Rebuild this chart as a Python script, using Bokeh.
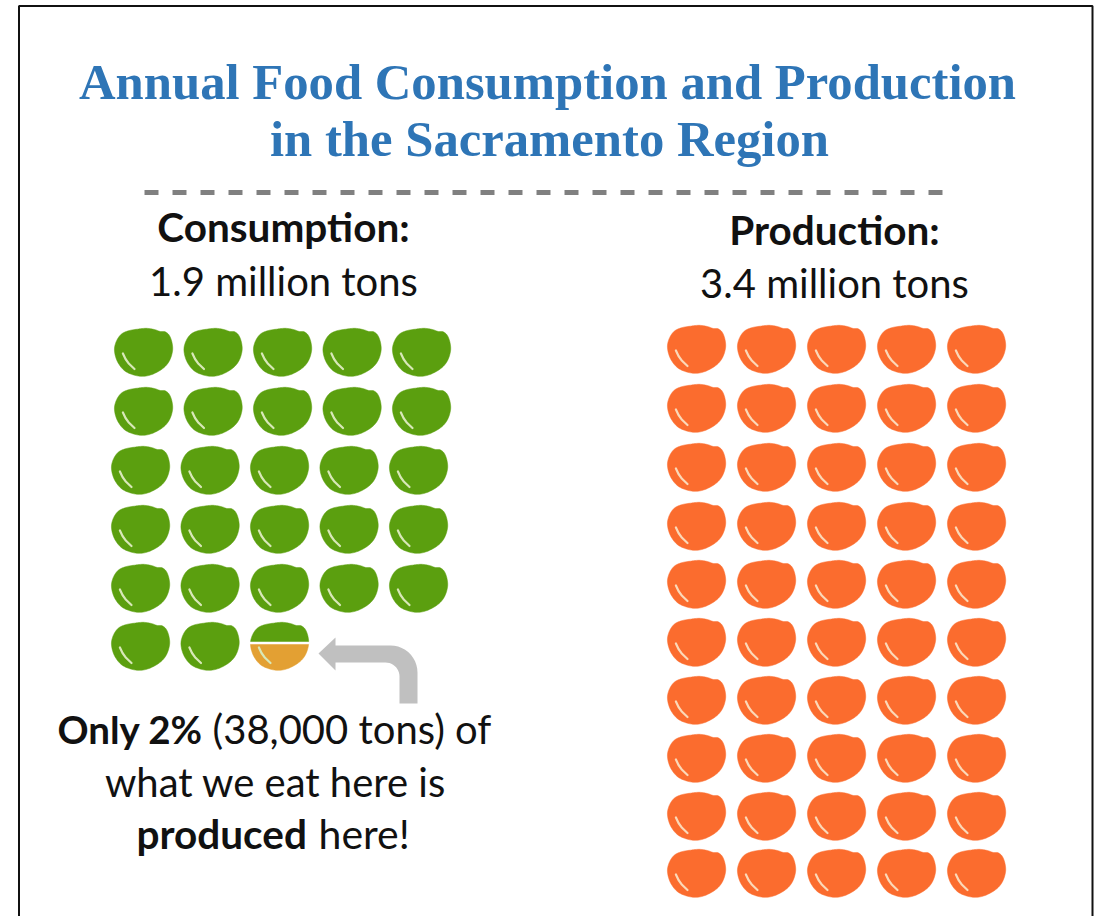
from bokeh.plotting import figure
from bokeh.embed import file_html
from bokeh.resources import INLINE
from bokeh.core.properties import value
import numpy as np

# ---- chart content
title_lines = ["Annual Food Consumption and Production", "in the Sacramento Region"]
categories = ["Consumption:", "Production:"]
totals = ["1.9 million tons", "3.4 million tons"]
consumption_row_counts = [5, 5, 5, 5, 5, 3]
production_row_counts = [5, 5, 5, 5, 5, 5, 5, 5, 5, 5]
split_row, split_col = 5, 2   # the one pea that is divided

# ---- layout (pixels of the 1096x916 page)
W, H = 1096, 916
LEFT_X = [143, 212.5, 282, 351.5, 421]
LEFT_Y = [352, 411, 470, 529, 588, 646]
LEFT_SHIFT = [0, 0, -3, -3, -3, -3]
RIGHT_X = [696, 766, 836, 906, 976]
RIGHT_Y = [349, 408, 467, 526, 584, 642, 700, 758, 816, 873]
HX, HY = 29, 24

GREEN, ORANGE, AMBER = "#5B9F0F", "#FB6C2E", "#E3A033"
BLUE, GREY, ARROW = "#2E75B6", "#808080", "#C0C0C0"

OUTLINE = [(43, 95), (47, 70), (62, 47), (85, 36), (115, 31), (140, 29), (165, 33), (180, 38),
           (195, 39), (208, 50), (216, 72), (217, 95), (208, 122), (190, 143), (160, 160),
           (130, 167), (100, 163), (72, 150), (52, 125)]
SHINE = [(-0.71, 0.04), (-0.62, 0.27), (-0.50, 0.47), (-0.31, 0.69)]


def smooth(points, n=8):
    pts = np.array(points, float)
    m = len(pts)
    out = []
    for i in range(m):
        p0, p1, p2, p3 = pts[(i - 1) % m], pts[i], pts[(i + 1) % m], pts[(i + 2) % m]
        for t in np.linspace(0, 1, n, endpoint=False):
            out.append(0.5 * (2 * p1 + (p2 - p0) * t + (2 * p0 - 5 * p1 + 4 * p2 - p3) * t ** 2
                              + (3 * p1 - p0 - 3 * p2 + p3) * t ** 3))
    return np.array(out)


shape = smooth(OUTLINE)
shape = (shape - [130, 98.5]) / [87, 69]


def clip(poly, ylimit, keep_above):
    res = []
    inside = (lambda q: q[1] <= ylimit) if keep_above else (lambda q: q[1] >= ylimit)
    for i in range(len(poly)):
        a, b = poly[i], poly[(i + 1) % len(poly)]
        if inside(a):
            res.append(a)
        if inside(a) != inside(b):
            t = (ylimit - a[1]) / (b[1] - a[1])
            res.append(a + t * (b - a))
    return np.array(res)


p = figure(width=W, height=H, x_range=(0, W), y_range=(H, 0), x_axis_type=None, y_axis_type=None,
           toolbar_location=None, output_backend="svg", min_border=0, outline_line_color=None,
           margin=0)
p.grid.visible = False

# frame
p.line(x=[18.5, 18.5, 1092, 1092], y=[H + 5, 5.5, 5.5, H + 5], line_color="#111111", line_width=2)


def add_peas(row_counts, xs, ys, color, shifts=None, split=None):
    px, py, sx, sy = [], [], [], []
    for r, count in enumerate(row_counts):
        for c in range(count):
            cx = xs[c] + (shifts[r] if shifts else 0)
            cy = ys[r]
            sx.append(list(cx + np.array(SHINE)[:, 0] * HX))
            sy.append(list(cy + np.array(SHINE)[:, 1] * HY))
            if split == (r, c):
                continue
            px.append(list(cx + shape[:, 0] * HX))
            py.append(list(cy + shape[:, 1] * HY))
    p.patches(px, py, fill_color=color, line_color=color, line_width=0.5)
    return sx, sy


lsx, lsy = add_peas(consumption_row_counts, LEFT_X, LEFT_Y, GREEN, LEFT_SHIFT, (split_row, split_col))
rsx, rsy = add_peas(production_row_counts, RIGHT_X, RIGHT_Y, ORANGE)

# divided pea
cx, cy = LEFT_X[split_col] + LEFT_SHIFT[split_row], LEFT_Y[split_row]
abs_shape = shape * [HX, HY] + [cx, cy]
top = clip(abs_shape, cy - 5, True)
bot = clip(abs_shape, cy - 2, False)
p.patch(top[:, 0], top[:, 1], fill_color=GREEN, line_color=GREEN, line_width=0.5)
p.patch(bot[:, 0], bot[:, 1], fill_color=AMBER, line_color=AMBER, line_width=0.5)

p.multi_line(lsx, lsy, line_color="#D8E8B8", line_width=2.2, line_cap="round")
p.multi_line(rsx, rsy, line_color="#FBD9B8", line_width=2.2, line_cap="round")

# arrow
t = np.linspace(0, np.pi / 2, 12)
outer_x = 390 + 27 * np.sin(t)
outer_y = 672 - 27 * np.cos(t)
inner_x = 385 + 14 * np.sin(t)
inner_y = 676 - 14 * np.cos(t)
ax = [318, 335, 335] + list(outer_x) + [417, 399] + list(inner_x[::-1]) + [335, 335]
ay = [653, 637, 645] + list(outer_y) + [703, 703] + list(inner_y[::-1]) + [662, 670]
p.patch(ax, ay, fill_color=ARROW, line_color=None)

# dashed rule
p.line(x=[144, 946], y=[192, 192], line_color=GREY, line_width=5, line_dash="14 14")


def label(x, y, txt, size, font, style="normal", color="#111111", align="center"):
    p.text(x=[x], y=[y], text=[txt], text_font=value(font), text_font_size=size, text_font_style=style,
           text_color=color, text_align=align, text_baseline="alphabetic")


SERIF, SANS = "Liberation Serif", "Lato"
label(547, 81, title_lines[0], "50.7px", SERIF, "bold", BLUE)
label(549, 138, title_lines[1], "50.7px", SERIF, "bold", BLUE)
label(283, 226, categories[0], "40.5px", SANS, "bold")
label(283, 280, totals[0], "40px", SANS)
label(834, 229, categories[1], "40.5px", SANS, "bold")
label(834, 282, totals[1], "40px", SANS)
label(57, 728, "Only 2%", "38.5px", SANS, "bold", align="left")
label(212, 728, "(38,000 tons) of", "40px", SANS, align="left")
label(275, 781, "what we eat here is", "40px", SANS)
label(136, 833, "produced", "40.5px", SANS, "bold", align="left")
label(318, 833, "here!", "41px", SANS, align="left")

open("out.html", "w").write(file_html(p, INLINE))
